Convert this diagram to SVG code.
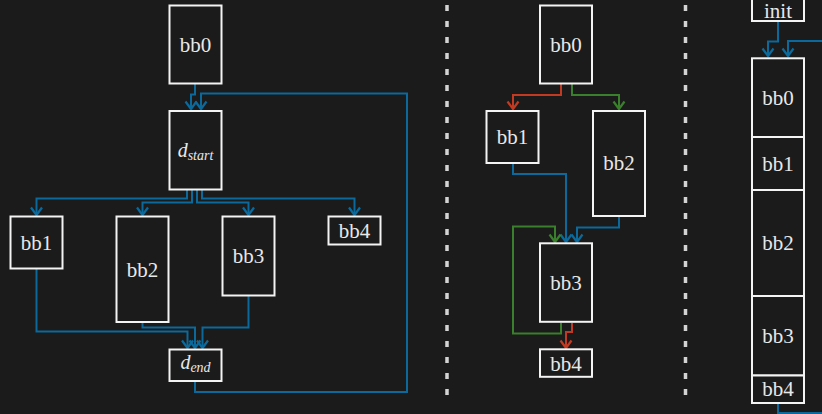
<svg xmlns="http://www.w3.org/2000/svg" width="822" height="414" viewBox="0 0 822 414">
<style>
.bg{fill:#1b1b1b}
.box{fill:#1b1b1b;stroke:#f4f4f4;stroke-width:2}
.t{font-family:"Liberation Serif","DejaVu Serif",serif;font-size:21px;fill:#e8e8e8;text-anchor:middle}
.m{font-family:"Liberation Serif","DejaVu Serif",serif;font-style:italic;font-size:20px;fill:#e8e8e8;text-anchor:middle}
.c{fill:none;stroke-width:2;stroke-linejoin:miter}
.b{stroke:#0b6a9b;marker-end:url(#ab)}
.r{stroke:#c23a22;marker-end:url(#ar)}
.g{stroke:#3a7f2c;marker-end:url(#ag)}
.sep{stroke:#d4d4d4;stroke-width:3.5;stroke-dasharray:6 10}
</style>
<defs>
<marker id="ab" viewBox="-9 -7 11 14" refX="0" refY="0" markerWidth="11" markerHeight="14" orient="auto" markerUnits="userSpaceOnUse"><path d="M-7.5,-5.5 Q-2,-1.5 0,0 Q-2,1.5 -7.5,5.5" fill="none" stroke="#0b6a9b" stroke-width="2.2"/></marker>
<marker id="ar" viewBox="-9 -7 11 14" refX="0" refY="0" markerWidth="11" markerHeight="14" orient="auto" markerUnits="userSpaceOnUse"><path d="M-7.5,-5.5 Q-2,-1.5 0,0 Q-2,1.5 -7.5,5.5" fill="none" stroke="#c23a22" stroke-width="2.2"/></marker>
<marker id="ag" viewBox="-9 -7 11 14" refX="0" refY="0" markerWidth="11" markerHeight="14" orient="auto" markerUnits="userSpaceOnUse"><path d="M-7.5,-5.5 Q-2,-1.5 0,0 Q-2,1.5 -7.5,5.5" fill="none" stroke="#3a7f2c" stroke-width="2.2"/></marker>
</defs>
<rect class="bg" x="0" y="0" width="822" height="414"/>

<g id="separators">
<line class="sep" x1="447" y1="5" x2="447" y2="395"/>
<line class="sep" x1="685.5" y1="5" x2="685.5" y2="395"/>
</g>

<g id="connectors">
<!-- left panel -->
<path class="c b" d="M195,84 V94.5 H191 V109"/>
<path class="c b" d="M195,382 V392 H407 V93.5 H201 V109"/>
<path class="c b" d="M187,190 V198.5 H36.5 V215"/>
<path class="c b" d="M192,190 V202.5 H142.5 V215"/>
<path class="c b" d="M197,190 V202.5 H248.5 V215"/>
<path class="c b" d="M202,190 V198.5 H354.5 V215"/>
<path class="c b" d="M36.5,269 V331.5 H187.5 V348"/>
<path class="c b" d="M142.5,322.5 V327.5 H195 V348"/>
<path class="c b" d="M248.5,296 V327.5 H202.5 V348"/>
<!-- middle panel -->
<path class="c r" d="M561,84 V95 H513 V109"/>
<path class="c g" d="M572,84 V95 H619 V109"/>
<path class="c b" d="M513,164 V174 H566 V242"/>
<path class="c b" d="M619,217 V227.5 H577 V242"/>
<path class="c g" d="M561,323 V333.5 H513 V226.5 H555 V242"/>
<path class="c r" d="M572,323 V332 H566 V348"/>
<!-- right panel -->
<path class="c b" d="M778,22 V41.5 H768 V56"/>
<path class="c b" d="M823,41 H788 V56"/>
<path class="c" stroke="#0b6a9b" d="M778,404 V413 H823"/>
</g>

<g id="L_bb0"><rect class="box" x="169.5" y="5.5" width="52" height="78"/><text class="t" x="195.5" y="52">bb0</text></g>
<g id="L_dstart"><rect class="box" x="169.5" y="111" width="52" height="78.5"/><text class="m" x="195.5" y="157">d<tspan font-size="14" dy="3">start</tspan></text></g>
<g id="L_bb1"><rect class="box" x="10.5" y="216.5" width="52" height="52"/><text class="t" x="36.5" y="250">bb1</text></g>
<g id="L_bb2"><rect class="box" x="116.5" y="216.5" width="52" height="105.5"/><text class="t" x="142.5" y="276.5">bb2</text></g>
<g id="L_bb3"><rect class="box" x="222.5" y="216.5" width="52" height="79"/><text class="t" x="248.5" y="263">bb3</text></g>
<g id="L_bb4"><rect class="box" x="328.5" y="216.5" width="52" height="28"/><text class="t" x="354.5" y="238">bb4</text></g>
<g id="L_dend"><rect class="box" x="169.5" y="349.5" width="52" height="31.5"/><text class="m" x="195.5" y="368.5">d<tspan font-size="14" dy="3">end</tspan></text></g>

<g id="M_bb0"><rect class="box" x="540" y="5.5" width="52" height="78"/><text class="t" x="566" y="52">bb0</text></g>
<g id="M_bb1"><rect class="box" x="486.5" y="111" width="52" height="52"/><text class="t" x="512.5" y="144">bb1</text></g>
<g id="M_bb2"><rect class="box" x="593" y="111" width="52" height="105"/><text class="t" x="619" y="170">bb2</text></g>
<g id="M_bb3"><rect class="box" x="540" y="243.3" width="52" height="78.5"/><text class="t" x="566" y="290">bb3</text></g>
<g id="M_bb4"><rect class="box" x="540" y="349.3" width="52" height="27.5"/><text class="t" x="566" y="370.5">bb4</text></g>

<g id="R_init"><rect class="box" x="752" y="-6" width="52" height="27"/><text class="t" x="778" y="17.5" font-size="20">init</text></g>
<g id="R_bb0"><rect class="box" x="752" y="58.3" width="52" height="78.7"/><text class="t" x="778" y="105">bb0</text></g>
<g id="R_bb1"><rect class="box" x="752" y="137" width="52" height="53"/><text class="t" x="778" y="171">bb1</text></g>
<g id="R_bb2"><rect class="box" x="752" y="190" width="52" height="106"/><text class="t" x="778" y="250">bb2</text></g>
<g id="R_bb3"><rect class="box" x="752" y="296" width="52" height="79.5"/><text class="t" x="778" y="343">bb3</text></g>
<g id="R_bb4"><rect class="box" x="752" y="375.5" width="52" height="27.5"/><text class="t" x="778" y="396">bb4</text></g>
</svg>
